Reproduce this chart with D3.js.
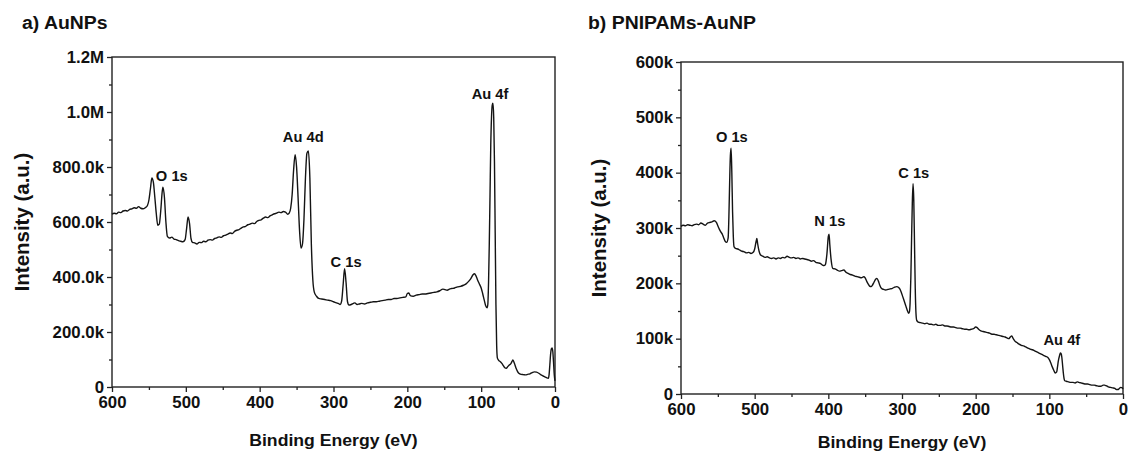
<!DOCTYPE html>
<html>
<head>
<meta charset="utf-8">
<script src="https://cdn.jsdelivr.net/npm/d3@7"></script>
<style>
  body { margin: 0; background: #fff; }
  svg { display: block; font-family: "Liberation Sans", Arial, sans-serif; font-weight: bold; }
  text { fill: #111; transform-box: fill-box; }
</style>
</head>
<body>
<svg id="fig" width="1128" height="452"></svg>
<script>
// a) AuNPs survey spectrum, [binding energy (eV), intensity (k counts)]
const auSpectrum = [
  [600,628],[597,632],[594,630],[591,636],[588,634],[585,640],[582,642],[579,640],[576,646],[573,648],
  [570,652],[567,650],[564,656],[561,650],[558,648],[555,652],[552,660],[550,680],[548,720],[546,760],
  [544,745],[542,690],[540,630],[538,588],[536,592],[534,640],[532,710],[531,727],[529,690],[527,600],
  [525,548],[522,542],[519,545],[516,538],[513,536],[510,532],[507,530],[504,528],[501,536],[499,575],
  [497,618],[495,595],[493,540],[491,526],[488,524],[485,520],[482,526],[479,525],[476,530],[473,528],
  [470,534],[467,536],[464,534],[461,540],[458,542],[455,546],[452,544],[449,550],[446,552],[443,556],
  [440,560],[437,558],[434,566],[431,570],[428,572],[425,578],[422,582],[419,584],[416,590],[413,592],
  [410,596],[407,594],[404,602],[401,606],[398,608],[395,614],[392,618],[389,616],[386,622],[383,626],
  [380,630],[377,632],[374,636],[371,634],[368,638],[365,636],[362,628],[360,632],[358,650],[356,700],
  [354,790],[352,845],[350,800],[348,690],[346,570],[344,505],[342,520],[340,610],[338,760],[336,850],
  [334,858],[332,760],[330,520],[328,390],[326,345],[323,330],[320,322],[316,320],[312,318],[308,316],
  [304,314],[300,310],[296,306],[293,303],[291,300],[289,312],[287,370],[285,430],[283,380],[281,310],
  [279,298],[276,300],[273,304],[271,306],[268,300],[265,302],[262,304],[258,302],[254,306],[250,308],
  [246,310],[242,310],[238,312],[234,314],[230,316],[226,318],[222,318],[218,322],[214,322],[210,324],
  [206,326],[202,328],[200,340],[198,342],[196,332],[192,330],[188,334],[184,336],[180,338],[176,338],
  [172,340],[168,342],[164,344],[160,346],[156,350],[152,356],[149,354],[146,352],[143,356],[140,358],
  [136,360],[132,364],[128,366],[124,370],[120,376],[117,384],[114,394],[111,408],[109,412],[107,404],
  [105,390],[103,378],[100,360],[98,340],[96,318],[94,296],[92,288],[91,300],[90,380],[89,520],
  [88,700],[87,880],[86,980],[85,1025],[84,1032],[83,980],[82,820],[81,560],[80,300],[79,150],
  [78,105],[76,96],[74,92],[72,86],[70,78],[68,70],[66,68],[64,74],[62,80],[60,84],
  [58,94],[57,98],[55,86],[53,70],[51,58],[49,50],[46,46],[43,45],[40,44],[37,46],
  [34,48],[31,52],[28,55],[25,54],[22,50],[19,44],[16,40],[13,36],[11,33],[9,32],
  [8,45],[7,80],[6,118],[5,138],[4,142],[3,130],[2,90],[1,45],[0,22]
];

// b) PNIPAMs-AuNP survey spectrum, [binding energy (eV), intensity (k counts)]
const pnipamSpectrum = [
  [600,303],[597,305],[594,304],[591,306],[588,305],[585,304],[582,306],[579,307],[576,306],[573,309],
  [570,307],[567,305],[564,309],[561,310],[558,311],[555,313],[552,310],[550,304],[548,298],[546,293],
  [544,289],[542,282],[540,276],[538,274],[536,282],[535,320],[534,380],[533,430],[532,444],[531,400],
  [530,330],[529,285],[528,266],[526,263],[523,262],[520,260],[517,258],[514,257],[511,255],[508,256],
  [505,254],[502,256],[500,262],[498,276],[497,281],[496,272],[494,258],[492,251],[489,249],[486,247],
  [483,248],[480,246],[477,245],[474,246],[471,244],[468,246],[465,245],[462,247],[459,246],[456,249],
  [453,247],[450,246],[447,247],[444,245],[441,246],[438,244],[435,245],[432,244],[429,243],[426,242],
  [423,240],[420,241],[417,238],[414,237],[411,236],[408,233],[406,232],[404,234],[402,252],[400,285],
  [399,289],[398,270],[396,240],[394,227],[391,226],[388,224],[385,222],[382,223],[379,224],[376,220],
  [373,218],[370,216],[367,215],[364,213],[361,212],[358,211],[355,210],[352,212],[350,210],[348,204],
  [346,199],[344,195],[342,194],[340,197],[338,202],[336,207],[334,209],[332,204],[330,196],[328,191],
  [325,189],[322,188],[319,189],[316,190],[313,191],[310,193],[307,194],[305,193],[303,190],[301,184],
  [299,176],[297,168],[295,160],[293,152],[291,146],[290,148],[289,165],[288,210],[287,280],[286,345],
  [285,380],[284,350],[283,270],[282,190],[281,145],[280,133],[278,130],[275,129],[272,128],[269,127],
  [266,128],[263,126],[260,126],[257,125],[254,126],[251,124],[248,124],[245,125],[242,123],[239,123],
  [236,122],[233,121],[230,121],[227,120],[224,119],[221,119],[218,118],[215,117],[212,117],[209,116],
  [206,117],[203,118],[200,121],[198,120],[196,117],[193,114],[190,113],[187,112],[184,111],[181,110],
  [178,108],[175,108],[172,107],[169,106],[166,105],[163,104],[160,103],[157,101],[155,100],[153,103],
  [151,105],[149,100],[147,96],[144,93],[141,90],[138,88],[135,87],[132,85],[129,83],[126,81],
  [123,80],[120,78],[117,76],[114,74],[111,72],[108,70],[105,68],[102,66],[100,62],[98,56],
  [96,49],[94,43],[92,38],[90,40],[89,48],[88,58],[86,70],[85,74],[84,73],[83,66],
  [82,52],[81,38],[80,28],[79,24],[77,23],[74,22],[71,21],[68,21],[65,20],[62,22],
  [60,21],[57,20],[54,19],[51,18],[48,18],[45,17],[42,16],[39,16],[36,15],[33,14],
  [30,14],[27,16],[25,16],[23,15],[20,13],[17,12],[14,11],[11,10],[9,8],[7,8],
  [5,10],[3,12],[1,11],[0,9]
];

// peak labels, placed at [energy, intensity] in data units
const auLabels = [
  { text: "O 1s", at: [519, 767] },
  { text: "Au 4d", at: [341, 909] },
  { text: "C 1s", at: [283, 455] },
  { text: "Au 4f", at: [88, 1065] }
];
const pnipamLabels = [
  { text: "O 1s", at: [531, 465] },
  { text: "N 1s", at: [398, 313] },
  { text: "C 1s", at: [284, 400] },
  { text: "Au 4f", at: [83, 98] }
];

const energyTicks = [600, 500, 400, 300, 200, 100, 0];
const auTicks = [0, 200, 400, 600, 800, 1000, 1200];
const pnipamTicks = [0, 100, 200, 300, 400, 500, 600];

const textStretch = 1.05;
const svg = d3.select('#fig');

function fmtAu(v) {
  if (v === 0) return '0';
  return v >= 1000 ? (v / 1000).toFixed(1) + 'M' : v.toFixed(1) + 'k';
}
function fmtPnipam(v) {
  return v === 0 ? '0' : v + 'k';
}

function drawPanel(p) {
  const g = svg.append('g');
  const x = d3.scaleLinear().domain([600, 0]).range([p.left, p.right]);
  const y = d3.scaleLinear().domain([0, p.yMax]).range([p.bottom, p.top]);

  // minor ticks
  g.append('g')
    .attr('transform', `translate(0,${p.bottom})`)
    .call(d3.axisBottom(x).tickValues(d3.range(50, 600, 100)).tickSize(3).tickFormat(''))
    .call(a => a.select('.domain').remove());
  g.append('g')
    .attr('transform', `translate(${p.left},0)`)
    .call(d3.axisLeft(y).tickValues(p.ticks.slice(1).map(t => t - p.ticks[1] / 2)).tickSize(3).tickFormat(''))
    .call(a => a.select('.domain').remove());

  // major ticks + labels
  g.append('g')
    .attr('transform', `translate(0,${p.bottom})`)
    .call(d3.axisBottom(x).tickValues(energyTicks).tickSize(5).tickPadding(5).tickFormat(d3.format('d')))
    .call(a => a.select('.domain').remove())
    .call(a => a.selectAll('text').attr('font-size', 16).attr('font-weight', 'bold'));
  g.append('g')
    .attr('transform', `translate(${p.left},0)`)
    .call(d3.axisLeft(y).tickValues(p.ticks).tickSize(5).tickPadding(3).tickFormat(p.format))
    .call(a => a.select('.domain').remove())
    .call(a => a.selectAll('text').attr('font-size', 16).attr('font-weight', 'bold'));

  g.selectAll('.tick line').attr('stroke', '#222').attr('stroke-width', 1.3);

  // frame
  g.append('rect')
    .attr('x', p.left).attr('y', p.top)
    .attr('width', p.right - p.left).attr('height', p.bottom - p.top)
    .attr('fill', 'none').attr('stroke', '#222').attr('stroke-width', 1.4);

  // spectrum
  const line = d3.line()
    .x(d => x(d[0]))
    .y(d => y(d[1]))
    .curve(d3.curveMonotoneX);
  g.append('path')
    .datum(p.data)
    .attr('d', line)
    .attr('fill', 'none')
    .attr('stroke', '#141414')
    .attr('stroke-width', 1.4)
    .attr('stroke-linejoin', 'round');

  // peak labels
  g.selectAll('.peak')
    .data(p.labels)
    .enter()
    .append('text')
    .attr('class', 'peak')
    .attr('x', d => x(d.at[0]))
    .attr('y', d => y(d.at[1]))
    .attr('dy', '0.35em')
    .attr('text-anchor', 'middle')
    .attr('font-size', 14)
    .text(d => d.text);

  // axis titles
  g.append('text')
    .attr('x', (p.left + p.right) / 2)
    .attr('y', p.titleY)
    .attr('text-anchor', 'middle')
    .attr('font-size', 16.8)
    .text('Binding Energy (eV)');
  g.append('g')
    .attr('transform', `translate(${p.yTitleX},${(p.top + p.bottom) / 2}) rotate(-90)`)
    .append('text')
    .attr('text-anchor', 'middle')
    .attr('font-size', 19.5)
    .text('Intensity (a.u.)');

  // panel title
  svg.append('text')
    .attr('x', p.panelX)
    .attr('y', 29)
    .attr('text-anchor', 'start')
    .attr('font-size', 18.5)
    .text(p.panel);
}

drawPanel({
  panel: 'a) AuNPs', panelX: 22,
  left: 112, right: 555, top: 57, bottom: 387,
  yMax: 1200, ticks: auTicks, format: fmtAu,
  data: auSpectrum, labels: auLabels,
  titleY: 446, yTitleX: 29
});

drawPanel({
  panel: 'b) PNIPAMs-AuNP', panelX: 588,
  left: 681, right: 1123, top: 62, bottom: 394,
  yMax: 600, ticks: pnipamTicks, format: fmtPnipam,
  data: pnipamSpectrum, labels: pnipamLabels,
  titleY: 448, yTitleX: 606
});

// the original figure's lettering is slightly wide; widen glyphs to match
svg.selectAll('text').each(function () {
  const anchor = getComputedStyle(this).textAnchor;
  const origin = anchor === 'end' ? 'right center' : anchor === 'start' ? 'left center' : 'center';
  d3.select(this)
    .style('transform-origin', origin)
    .style('transform', `scaleX(${textStretch})`);
});
</script>
</body>
</html>
